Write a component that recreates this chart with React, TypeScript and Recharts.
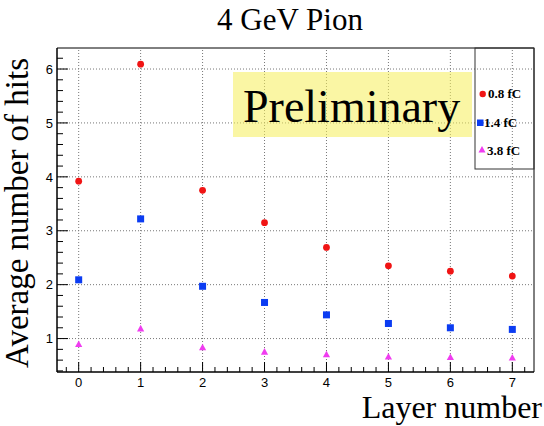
import React from 'react';
import { ScatterChart, Scatter, XAxis, YAxis, ReferenceLine, ReferenceArea } from 'recharts';

const layers = [0, 1, 2, 3, 4, 5, 6, 7];
const hits08fC = [3.92, 6.09, 3.75, 3.15, 2.69, 2.35, 2.25, 2.16];
const hits14fC = [2.09, 3.22, 1.97, 1.67, 1.44, 1.28, 1.2, 1.17];
const hits38fC = [0.89, 1.18, 0.83, 0.75, 0.7, 0.66, 0.65, 0.64];
const majorXTicks = [0, 1, 2, 3, 4, 5, 6, 7];
const majorYTicks = [1, 2, 3, 4, 5, 6];
const seriesNames = ['0.8 fC', '1.4 fC', '3.8 fC'];
const titleText = '4 GeV Pion';
const xTitle = 'Layer number';
const yTitle = 'Average number of hits';
const stampText = 'Preliminary';

const X_DOMAIN: [number, number] = [-0.35, 7.35];
const Y_DOMAIN: [number, number] = [0.38, 6.39];

const RED = '#f01414';
const BLUE = '#0b3cf2';
const MAGENTA = '#f03cf0';

const minorX: number[] = [];
for (let i = -1; i <= 36; i++) minorX.push(i / 5);
const minorY: number[] = [];
for (let i = 2; i <= 31; i++) minorY.push(i / 5);

const isMajor = (v: number) => Math.abs(v - Math.round(v)) < 1e-6;

const toPoints = (vals: number[]) => layers.map((l, i) => ({ x: l, y: vals[i] }));

const SERIF = '"Liberation Serif", "Times New Roman", serif';
const SANS = '"Liberation Sans", Arial, Helvetica, sans-serif';

const renderYTick = (props: any) => {
  const { x, y, payload } = props;
  const v = payload.value;
  const major = isMajor(v);
  return (
    <g>
      <line x1={x} x2={x + (major ? 11 : 6)} y1={y} y2={y} stroke="#000" strokeWidth={1} />
      {major && (
        <text x={x - 4} y={y} dy="0.36em" textAnchor="end" fontSize={13} fontFamily={SANS} fill="#000" stroke="none">
          {Math.round(v)}
        </text>
      )}
    </g>
  );
};

const renderXTick = (props: any) => {
  const { x, y, payload } = props;
  const v = payload.value;
  const major = isMajor(v);
  return (
    <g>
      <line x1={x} x2={x} y1={y} y2={y - (major ? 10 : 5)} stroke="#000" strokeWidth={1} />
      {major && (
        <text x={x} y={y + 14.5} textAnchor="middle" fontSize={13} fontFamily={SANS} fill="#000" stroke="none">
          {Math.round(v)}
        </text>
      )}
    </g>
  );
};

const Circle = (props: any) => <circle cx={props.cx} cy={props.cy} r={3.4} fill={RED} />;
const Square = (props: any) => (
  <rect x={props.cx - 3.5} y={props.cy - 3.5} width={7} height={7} fill={BLUE} />
);
const Triangle = (props: any) => (
  <polygon
    points={`${props.cx},${props.cy - 4} ${props.cx - 3.6},${props.cy + 2.6} ${props.cx + 3.6},${props.cy + 2.6}`}
    fill={MAGENTA}
  />
);

export default function App() {
  return (
    <div style={{ position: 'absolute', left: 0, top: 0, width: 544, height: 426, background: '#fff' }}>
      <ScatterChart width={544} height={426} margin={{ top: 48, right: 10, bottom: 24, left: 17 }}>
        <XAxis
          type="number"
          dataKey="x"
          domain={X_DOMAIN}
          allowDataOverflow
          ticks={minorX}
          interval={0}
          height={30}
          tickSize={0}
          tickMargin={0}
          tickLine={false}
          axisLine={{ stroke: '#000' }}
          tick={renderXTick}
        />
        <YAxis
          type="number"
          dataKey="y"
          domain={Y_DOMAIN}
          allowDataOverflow
          ticks={minorY}
          interval={0}
          width={40}
          tickSize={0}
          tickMargin={0}
          tickLine={false}
          axisLine={{ stroke: '#000' }}
          tick={renderYTick}
        />
        {majorXTicks.map((v) => (
          <ReferenceLine key={'gx' + v} x={v} stroke="#777" strokeDasharray="1 2" strokeWidth={1} />
        ))}
        {majorYTicks.map((v) => (
          <ReferenceLine key={'gy' + v} y={v} stroke="#777" strokeDasharray="1 2" strokeWidth={1} />
        ))}
        <ReferenceArea
          x1={X_DOMAIN[0]}
          x2={X_DOMAIN[1]}
          y1={Y_DOMAIN[0]}
          y2={Y_DOMAIN[1]}
          fill="none"
          fillOpacity={0}
          stroke="#000"
          strokeWidth={1}
        />
        <Scatter name={seriesNames[0]} data={toPoints(hits08fC)} shape={Circle} isAnimationActive={false} />
        <Scatter name={seriesNames[1]} data={toPoints(hits14fC)} shape={Square} isAnimationActive={false} />
        <Scatter name={seriesNames[2]} data={toPoints(hits38fC)} shape={Triangle} isAnimationActive={false} />
      </ScatterChart>
      <svg
        width={544}
        height={426}
        style={{ position: 'absolute', left: 0, top: 0, pointerEvents: 'none' }}
      >
        <text x={290} y={30} textAnchor="middle" fontSize={31} fontFamily={SERIF} fill="#000">
          {titleText}
        </text>
        <text
          transform="translate(28,368) rotate(-90)"
          textAnchor="start"
          fontSize={33}
          fontFamily={SERIF}
          fill="#000"
        >
          {yTitle}
        </text>
        <text x={542} y={418} textAnchor="end" fontSize={32} fontFamily={SERIF} fill="#000">
          {xTitle}
        </text>
        <rect x={233} y={72} width={239} height={65} fill="#f5ee5a" fillOpacity={0.55} />
        <text x={243} y={122} fontSize={46} fontFamily={SERIF} fill="#000">
          {stampText}
        </text>
        <rect x={475} y={48} width={59} height={121} fill="none" stroke="#333" strokeWidth={1} />
        <circle cx={482.7} cy={94} r={3.2} fill={RED} />
        <text x={488} y={98} fontSize={13} fontWeight="bold" fontFamily={SERIF} fill="#000">
          {seriesNames[0]}
        </text>
        <rect x={477} y={119.5} width={6.5} height={6.5} fill={BLUE} />
        <text x={484} y={127} fontSize={13} fontWeight="bold" fontFamily={SERIF} fill="#000">
          {seriesNames[1]}
        </text>
        <polygon points="482,146 478.5,152.5 485.5,152.5" fill={MAGENTA} />
        <text x={487} y={155} fontSize={13} fontWeight="bold" fontFamily={SERIF} fill="#000">
          {seriesNames[2]}
        </text>
      </svg>
    </div>
  );
}
